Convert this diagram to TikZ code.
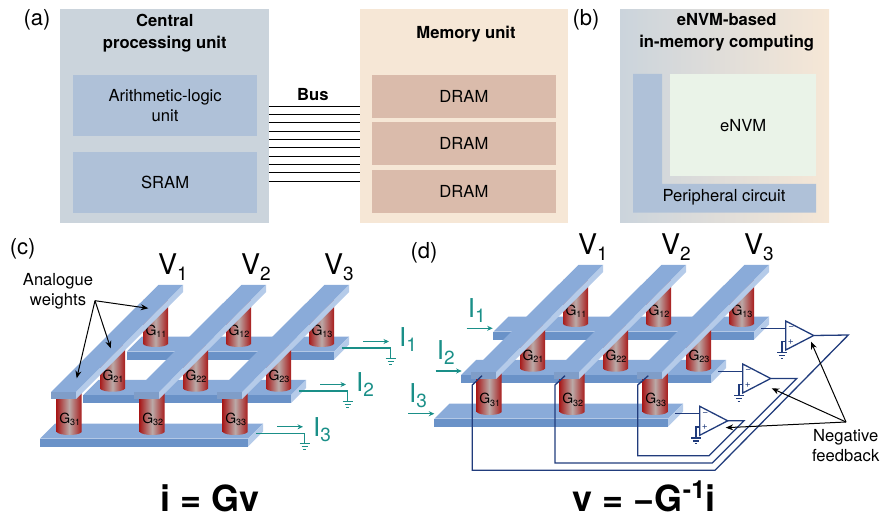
\documentclass[tikz,border=0pt]{standalone}
\usepackage{fontspec}
\setmainfont{TeX Gyre Heros}
\usetikzlibrary{arrows.meta}
\definecolor{cpugrey}{HTML}{CBD4DC}
\definecolor{unitblue}{HTML}{AFC1D8}
\definecolor{membeige}{HTML}{F6E7D6}
\definecolor{dramrose}{HTML}{DABBAB}
\definecolor{envmgreen}{HTML}{EAF3E8}
\definecolor{railblue}{HTML}{8AABD9}
\definecolor{raillight}{HTML}{B5CBE9}
\definecolor{raildark}{HTML}{6A92C8}
\definecolor{cellred}{HTML}{A81C1C}
\definecolor{cellgrey}{HTML}{BBAAA8}
\definecolor{wirenavy}{HTML}{213C7C}
\definecolor{senseteal}{HTML}{1A8F88}
\newcommand{\sizedfont}[1]{\fontsize{#1}{#1}\selectfont}
\newcommand{\lowsub}[3]{\raisebox{-#2pt}{\sizedfont{#1}#3}}
\tikzset{
  box/.style={anchor=north west, inner sep=0pt, minimum width=#1},
  lbl/.style={font=\fontsize{16.6}{20}\selectfont, align=center, inner sep=0pt},
  boldlbl/.style={lbl, font=\fontsize{16.6}{21.6}\selectfont\bfseries},
  panellbl/.style={font=\sizedfont{22}, inner sep=0pt},
  reslbl/.style={font=\sizedfont{14}, anchor=base, inner sep=0pt},
  vlbl/.style={font=\sizedfont{28.5}, anchor=base west, inner sep=0pt},
  ilbl/.style={font=\sizedfont{26}, text=senseteal, anchor=base west, inner sep=0pt},
  eqnlbl/.style={font=\sizedfont{36}\bfseries, anchor=base, inner sep=0pt},
  signlbl/.style={font=\sizedfont{10}, text=wirenavy, inner sep=0pt},
  pointer/.style={-{Stealth[length=7.5pt,width=6pt]}, line width=1pt},
  sense/.style={senseteal, line width=1.3pt},
  sensearrow/.style={sense, -{Stealth[length=5.5pt,width=5pt]}},
  wire/.style={wirenavy, line width=1.3pt}
}
\newcommand{\groundsym}[3]{
    \draw[#1] (#2-5,#3) -- (#2+5,#3) (#2-3.2,#3+2.9) -- (#2+3.2,#3+2.9) (#2-1.4,#3+5.8) -- (#2+1.4,#3+5.8);
}
\newcommand{\railplate}[3]{
    \fill[railblue] (#1,#3) -- (#2,#3) -- (#2+15,#3-15) -- (#1+15,#3-15) -- cycle;
    \fill[raillight] (#2,#3) -- (#2+15,#3-15) -- (#2+15,#3-7) -- (#2,#3+8) -- cycle;
    \fill[raildark] (#1,#3) rectangle (#2,#3+8);
}
\newcommand{\crossarray}[4]{
    \railplate{#2}{334}{351.7}
    \railplate{#3}{291}{395}
    \railplate{#4}{248}{438.7}
    \foreach \r/\x/\yb/\yt in {1/143/347/300, 2/100/391.7/345, 3/56.7/435/392}
      \foreach \c/\dx in {1/0, 2/83, 3/166} {
        \shade[left color=cellred, right color=cellred, middle color=cellgrey]
          (\x+\dx,\yt) -- (\x+\dx,\yb-3) .. controls (\x+\dx+3,\yb+1) and (\x+\dx+22,\yb+1) .. (\x+\dx+25,\yb-3) -- (\x+\dx+25,\yt) -- cycle;
        \node[reslbl] (#1G\r\c) at (\x+\dx+13,\yb-11.5) {G\lowsub{9}{2.5}{\r\c}};
      }
    \foreach \c/\dx in {1/0, 2/83, 3/166} {
        \fill[railblue] (51+\dx,392) -- (76+\dx,392) -- (183+\dx,285) -- (158.3+\dx,285) -- cycle;
        \fill[raillight] (76+\dx,392) -- (183+\dx,285) -- (183+\dx,292) -- (76+\dx,399) -- cycle;
        \fill[railblue!92!black] (51+\dx,392) rectangle (76+\dx,399.5);
        \node[vlbl] (#1V\c) at (157.8+\dx,275) {V\lowsub{19}{5.5}{\c}};
    }
}
\begin{document}
\begin{tikzpicture}[x=1pt, y=-1pt]
    \useasboundingbox (0,0) rectangle (881,518);

    \node[box=208.2pt, minimum height=213.5pt, fill=cpugrey] (cpu) at (60.2,9) {};
    \node[box=183.4pt, minimum height=60.7pt, fill=unitblue, lbl] (alu) at (73.2,75) {Arithmetic-logic\\unit};
    \node[box=183.4pt, minimum height=61pt, fill=unitblue, lbl] (sram) at (73.2,152) {SRAM};
    \node[boldlbl] (cputitle) at (164.8,33) {Central\\processing unit};

    \node[box=208.2pt, minimum height=213.5pt, fill=membeige] (mem) at (359.6,9) {};
    \node[boldlbl] (memtitle) at (466,34) {Memory unit};
    \node[box=184.6pt, minimum height=43pt, fill=dramrose, lbl] (dram1) at (371.4,75) {DRAM};
    \node[box=184.6pt, minimum height=43pt, fill=dramrose, lbl] (dram2) at (371.4,122) {DRAM};
    \node[box=184.6pt, minimum height=43pt, fill=dramrose, lbl] (dram3) at (371.4,170) {DRAM};

    \foreach \y in {106.3,114.6,122.9,131.2,139.5,147.8,156.1,164.4,172.7,181}
        \draw[line width=.9pt] (cpu.east |- 0,\y) -- (mem.west |- 0,\y);
    \node[boldlbl] (bus) at (312.9,95) {Bus};

    \node[box=209pt, minimum height=213.5pt, left color=cpugrey, right color=membeige] (envmpanel) at (620,9) {};
    \node[boldlbl] (envmtitle) at (726.7,32.5) {eNVM-based\\in-memory computing};
    \fill[unitblue] (633,74) -- (662,74) -- (662,184) -- (816,184) -- (816,212.7) -- (633,212.7) -- cycle;
    \node[box=146pt, minimum height=102pt, fill=envmgreen, lbl] (envm) at (670,74) {eNVM};
    \node[lbl] (periph) at (724,197) {Peripheral circuit};

    \node[panellbl] (labela) at (37,20) {(a)};
    \node[panellbl] (labelb) at (586,20) {(b)};
    \node[panellbl] (labelc) at (22.7,249) {(c)};
    \node[panellbl] (labeld) at (424,253) {(d)};

    \crossarray{c}{126.7}{83.3}{40}

    \foreach \n/\tx/\ty/\ix/\iy in {1/342/348/399/347, 2/299/391/356/392, 3/256/433.3/313/436.5} {
        \coordinate (tap\n) at (\tx,\ty);
        \draw[sense] (tap\n) -- ++(48.7,0) -- ++(0,10);
        \groundsym{sense}{\tx+48.7}{\ty+10.5}
        \draw[sensearrow] (\tx+21,\ty-6.5) -- ++(26,0);
        \node[ilbl] (ci\n) at (\ix,\iy) {I\lowsub{19}{5}{\n}};
    }

    \node[lbl] (weights) at (58,291) {Analogue\\weights};
    \coordinate (weightfrom) at (95,300.7);
    \draw[pointer] (weightfrom) -- (148.3,308.3);
    \draw[pointer] (weightfrom) -- (110.7,348.3);
    \draw[pointer] (weightfrom) -- (76.7,378.3);

    \node[eqnlbl] (eqnc) at (210,511) {i = Gv};

    \begin{scope}[shift={(420,-20)}]
        \crossarray{d}{73.3}{41}{14.3}
    \end{scope}

    \foreach \n/\ix/\iy/\ax/\ay in {1/467.7/318/466.7/328.3, 2/436.7/360/435.7/371, 3/409/403/408.3/413.7} {
        \node[ilbl] (di\n) at (\ix,\iy) {I\lowsub{19}{5}{\n}};
        \draw[sensearrow] (\ax,\ay) -- ++(26,0);
    }

    \foreach \n/\ax/\ay in {1/785.7/321, 2/742.7/364, 3/699.7/406.3} {
        \coordinate (amp\n) at (\ax,\ay);
        \draw[wire] (amp\n) -- ++(0,29) -- ++(28,-14.5) -- cycle;
        \coordinate (out\n) at (\ax+28,\ay+14.5);
        \draw[wire] (amp\n) ++(0,7.3) -- ++(-24.5,0);
        \draw[wire] (amp\n) ++(0,20.7) -- ++(-3.7,0) -- ++(0,10.5);
        \groundsym{wire}{\ax-3.7}{\ay+31.7}
        \node[signlbl] (minus\n) at (\ax+5.5,\ay+7.3) {−};
        \node[signlbl] (plus\n) at (\ax+5.2,\ay+20.7) {+};
    }

    \coordinate (bar1) at (482,375.7);
    \coordinate (bar2) at (565,375.7);
    \coordinate (bar3) at (648.3,375.7);
    \draw[wire] (bar1) -- (472.3,385) -- (472.3,470.3) -- (715,470.3) -- (848.3,335) -- (out1);
    \draw[wire] (bar2) -- (555,385) -- (555,463) -- (712.3,463) -- (796.7,378.5) -- (out2);
    \draw[wire] (bar3) -- (637.7,385) -- (637.7,455.7) -- (709,455.7) -- (744,420.8) -- (out3);

    \node[lbl] (feedback) at (845.7,445.5) {Negative\\feedback};
    \coordinate (feedfrom) at (846,422);
    \draw[pointer] (feedfrom) -- (811,341.7);
    \draw[pointer] (feedfrom) -- (771.7,388.3);
    \draw[pointer] (feedfrom) -- (725.7,427.7);

    \node[eqnlbl] (eqnd) at (644,511) {v = −G\raisebox{13pt}{\sizedfont{25}-1}i};
\end{tikzpicture}
\end{document}
